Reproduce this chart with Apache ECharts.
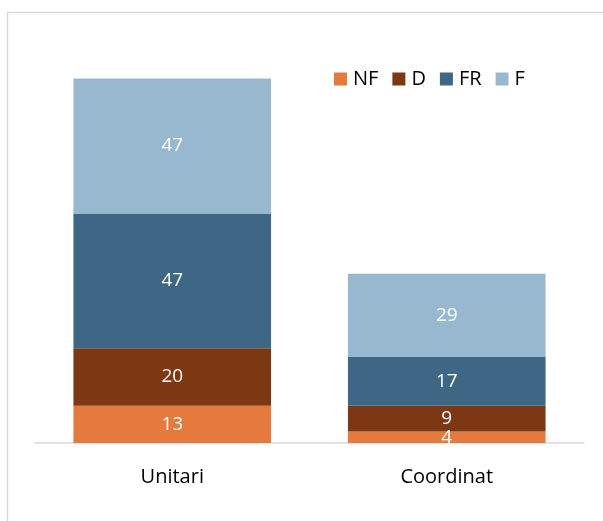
<!DOCTYPE html>
<html>
<head>
<meta charset="utf-8">
<script src="https://cdn.jsdelivr.net/npm/echarts@6/dist/echarts.min.js"></script>
<style>
  html, body { margin: 0; padding: 0; background: #fff; }
  #chart { width: 603px; height: 521px; }
</style>
</head>
<body>
<div id="chart"></div>
<script>
const categories = ['Unitari', 'Coordinat']
const seriesNames = ['NF', 'D', 'FR', 'F']
const nfValues = [13, 4]
const dValues = [20, 9]
const frValues = [47, 17]
const fValues = [47, 29]
const colors = ['#E57A3F', '#7C3713', '#3D6785', '#98B8CF']

const chart = echarts.init(document.getElementById('chart'))

const makeSeries = (name, data, i) => ({
  name,
  type: 'bar',
  stack: 'total',
  data,
  barWidth: '72%',
  itemStyle: { color: colors[i] },
  label: {
    show: true,
    position: 'inside',
    color: '#fff',
    fontSize: 19,
    fontFamily: 'Open Sans'
  }
})

chart.setOption({
  animation: false,
  textStyle: { fontFamily: 'Open Sans' },
  graphic: [
    {
      type: 'rect',
      shape: { x: 7.5, y: 12.5, width: 620, height: 540 },
      style: { fill: 'none', stroke: '#d9d9d9', lineWidth: 1.5 },
      silent: true
    }
  ],
  legend: {
    data: seriesNames,
    left: 329,
    top: 64,
    itemWidth: 13,
    itemHeight: 13,
    itemGap: 14,
    icon: 'rect',
    textStyle: { fontSize: 20, color: '#000', fontFamily: 'Open Sans', padding: [0, 0, 0, 1] }
  },
  grid: { left: 35, right: 19, top: 70, bottom: 78, containLabel: false },
  xAxis: {
    type: 'category',
    data: categories,
    axisLine: { lineStyle: { color: '#d9d9d9', width: 1.5 } },
    axisTick: { show: false },
    axisLabel: { color: '#000', fontSize: 20, margin: 24 }
  },
  yAxis: {
    type: 'value',
    min: 0,
    max: 130,
    show: false,
    splitLine: { show: false }
  },
  series: [
    makeSeries(seriesNames[0], nfValues, 0),
    makeSeries(seriesNames[1], dValues, 1),
    makeSeries(seriesNames[2], frValues, 2),
    makeSeries(seriesNames[3], fValues, 3)
  ]
})
</script>
</body>
</html>
